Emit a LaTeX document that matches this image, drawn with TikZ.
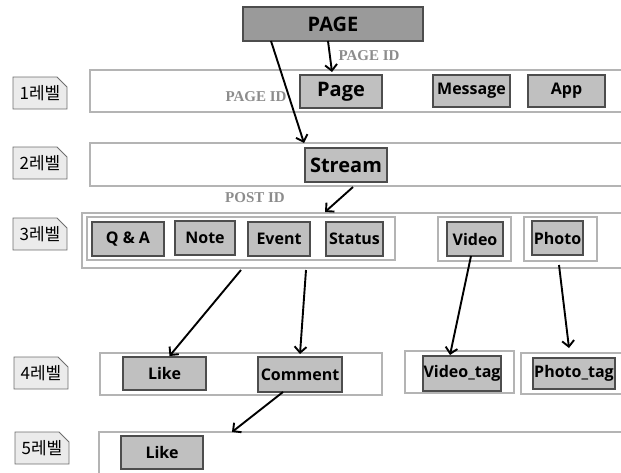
\documentclass[tikz,border=0pt]{standalone}
\usepackage{fontspec}
\setmainfont{Open Sans}
\newfontfamily\korfont{Noto Sans CJK KR}
\newfontfamily\idfont{Liberation Serif}
\usetikzlibrary{arrows.meta,shapes.misc}
\definecolor{framegray}{HTML}{B4B4B4}
\definecolor{boxline}{HTML}{4D4D4D}
\definecolor{boxfill}{HTML}{C0C0C0}
\definecolor{pagefill}{HTML}{9A9A9A}
\definecolor{idgray}{HTML}{8C8C8C}
\definecolor{lblfill}{HTML}{EBEBEB}
\definecolor{lblline}{HTML}{6E6E6E}
\newcommand{\smallbox}{\bfseries\fontsize{16}{17}\selectfont}
\newcommand{\bigbox}{\bfseries\fontsize{20}{21}\selectfont}
\begin{document}
\begin{tikzpicture}[x=1pt,y=-1pt,
  frame/.style={draw=framegray, line width=1.4pt, inner sep=0pt, outer sep=0pt},
  framebox/.style n args={2}{frame, minimum width=#1, minimum height=#2},
  box/.style n args={2}{draw=boxline, fill=boxfill, line width=1.1pt, inner sep=0pt,
     outer sep=0pt, minimum width=#1, minimum height=#2, font=\smallbox},
  bigbox/.style={font=\bigbox},
  lvl/.style={chamfered rectangle, chamfered rectangle corners=north east,
     chamfered rectangle xsep=5pt, chamfered rectangle ysep=5pt,
     draw=lblline, fill=lblfill, line width=0.9pt, inner sep=0pt,
     minimum width=54pt, minimum height=32pt, font=\korfont\fontsize{17}{17}\selectfont},
  idlabel/.style={text=idgray, font=\idfont\bfseries\fontsize{15}{15}\selectfont, inner sep=0pt},
  arr/.style={line width=1.9pt, -{Straight Barb[length=6pt,width=12pt,line width=1.9pt]}}]
\useasboundingbox (0,0) rectangle (621,472);

% level frames (open at the right edge)
\draw[frame] (621,70) -- (90,70) -- (90,112) -- (621,112);
\draw[frame] (621,143) -- (90,143) -- (90,186) -- (621,186);
\draw[frame] (621,213) -- (82,213) -- (82,268) -- (621,268);
\draw[frame] (621,353) -- (521,353) -- (521,394) -- (621,394);
\draw[frame] (621,432) -- (99,432) -- (99,473);
\coordinate (f5) at (99,432);
\node[framebox={308pt}{43pt}] (grp) at (241,238.5) {};
\node[framebox={73pt}{44pt}] (vfr) at (474.5,239) {};
\node[framebox={73pt}{44pt}] (pfr) at (560.5,239) {};
\node[framebox={282pt}{42pt}] (f4) at (241,374) {};
\node[framebox={109pt}{42pt}] (vtf) at (459.5,372) {};

% level labels
\node[lvl] (L1) at (40,93) {1레벨};
\node[lvl] (L2) at (40,163) {2레벨};
\node[lvl] (L3) at (40,234) {3레벨};
\node[lvl] (L4) at (41,373) {4레벨};
\node[lvl] (L5) at (42,448) {5레벨};

% boxes
\node[box={180pt}{34pt}, bigbox, fill=pagefill] (PAGE) at (333,24) {PAGE};
\node[box={82pt}{33pt}, bigbox] (Page) at (341,91.5) {Page};
\node[box={77pt}{32pt}] (Message) at (471.5,91) {Message};
\node[box={77pt}{32pt}] (App) at (566.5,91) {App};
\node[box={82pt}{34pt}, bigbox] (Stream) at (346,165) {Stream};
\node[box={72pt}{34pt}] (QA) at (128,239) {Q \& A};
\node[box={60pt}{34pt}] (Note) at (205,238) {Note};
\node[box={62pt}{34pt}] (Event) at (279,239) {Event};
\node[box={57pt}{34pt}] (Status) at (354.5,239) {Status};
\node[box={56pt}{34pt}] (Video) at (475,239) {Video};
\node[box={51pt}{34pt}] (Photo) at (557.5,238) {Photo};
\node[box={83pt}{33pt}] (Like4) at (164.5,373.5) {Like};
\node[box={84pt}{35pt}] (Comment) at (300,374.5) {Comment};
\node[box={78pt}{35pt}] (VideoTag) at (462,373.5) {Video\_tag};
\node[box={82pt}{31pt}] (PhotoTag) at (574,373.5) {Photo\_tag};
\node[box={82pt}{33pt}] (Like5) at (162,452.5) {Like};

% id labels
\node[idlabel] (id1) at (369,56) {PAGE ID};
\node[idlabel] (id2) at (256,97) {PAGE ID};
\node[idlabel] (id3) at (255,198) {POST ID};

% arrows
\draw[arr] ([xshift=-5pt]PAGE.south) -- ([xshift=-9pt,yshift=3pt]Page.north);
\draw[arr] ([xshift=28pt]PAGE.south west) -- ([shift={(-1pt,5pt)}]Stream.north west);
\draw[arr] ([xshift=7pt,yshift=-5pt]Stream.south) -- ([shift={(-1pt,10pt)}]Status.north west);
\draw[arr] ([yshift=-10pt]grp.south) -- ([xshift=5pt,yshift=1pt]Like4.north);
\draw[arr] ([shift={(27pt,-14pt)}]Event.south) -- ([yshift=3pt]Comment.north);
\draw[arr] ([xshift=-4pt]Video.south) -- ([xshift=-12pt,yshift=1pt]VideoTag.north);
\draw[arr] ([shift={(1.5pt,-10pt)}]Photo.south) -- ([shift={(-5pt,10pt)}]PhotoTag.north);
\draw[arr] ([xshift=-17pt]Comment.south) -- ([xshift=133pt]f5);
\end{tikzpicture}
\end{document}
